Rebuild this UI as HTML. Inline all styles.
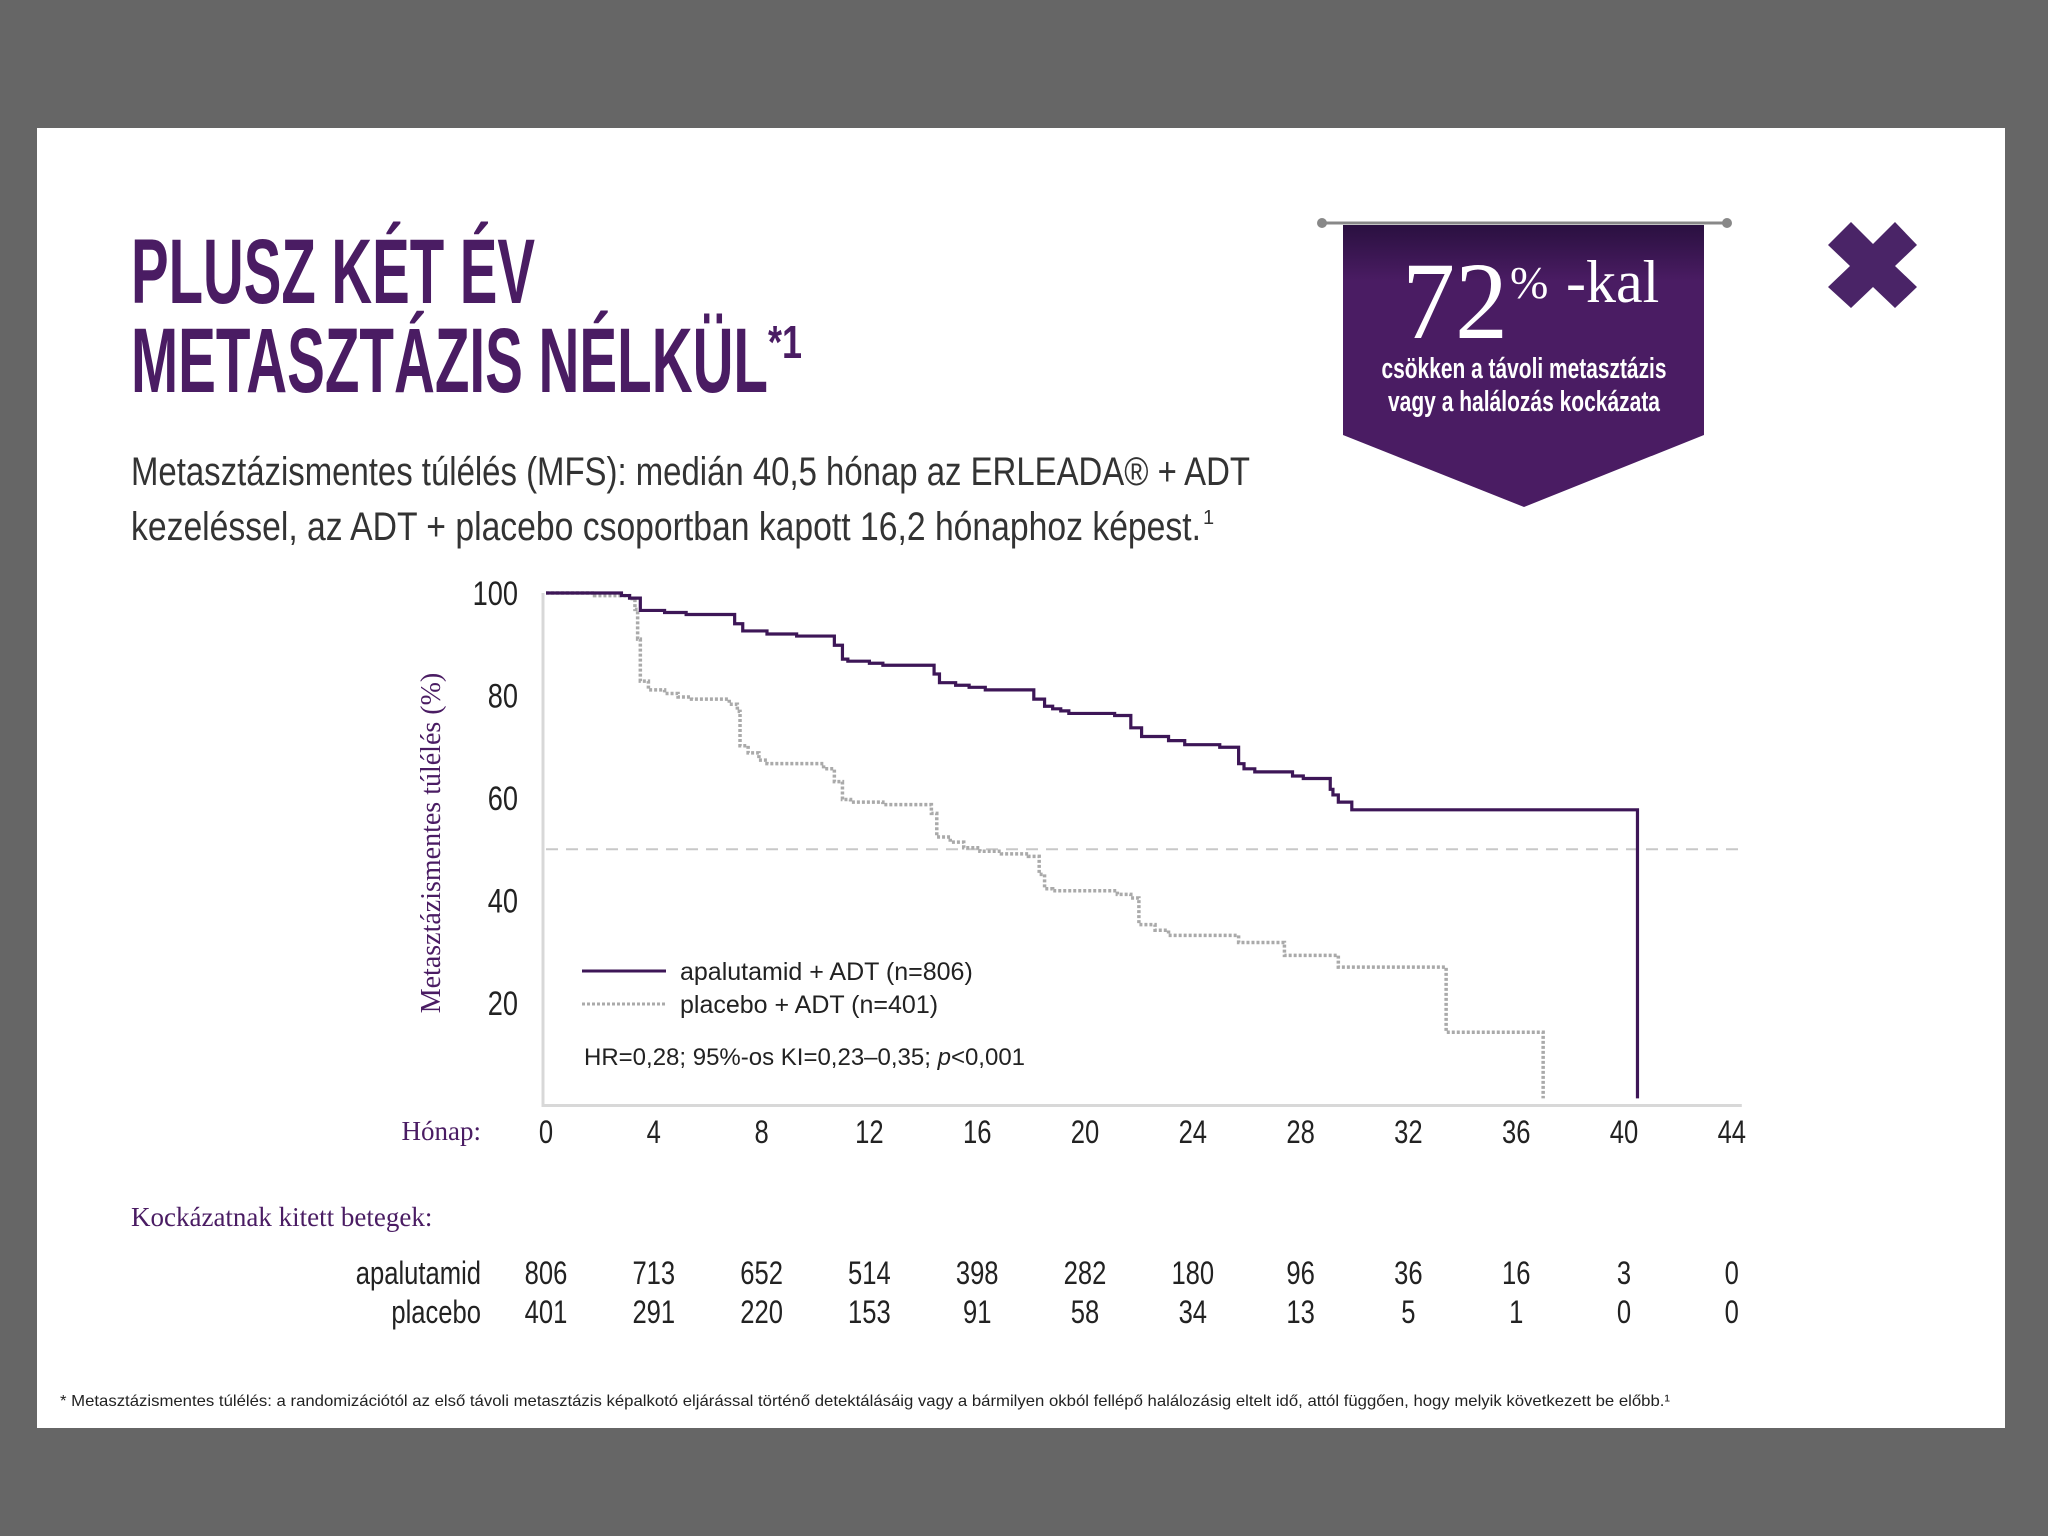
<!DOCTYPE html>
<html><head><meta charset="utf-8"><style>
html,body{margin:0;padding:0;background:#666;}
svg{display:block;}
</style></head><body>
<svg id="root" width="2048" height="1536" viewBox="0 0 2048 1536" xmlns="http://www.w3.org/2000/svg" font-family="Liberation Sans, sans-serif">
<rect x="0" y="0" width="2048" height="1536" fill="#666666"/>
<rect x="37" y="128" width="1968" height="1300" fill="#ffffff"/>
<g fill="#4a1c63" font-weight="bold">
<text x="131" y="303" font-size="92" textLength="404" lengthAdjust="spacingAndGlyphs">PLUSZ KÉT ÉV</text>
<text x="131" y="392" font-size="92" textLength="637" lengthAdjust="spacingAndGlyphs">METASZTÁZIS NÉLKÜL</text>
<text x="768" y="358" font-size="46" textLength="34" lengthAdjust="spacingAndGlyphs">*1</text>
</g>
<g fill="#333" font-size="40">
<text x="131" y="485" textLength="1119" lengthAdjust="spacingAndGlyphs">Metasztázismentes túlélés (MFS): medián 40,5 hónap az ERLEADA® + ADT</text>
<text x="131" y="540" textLength="1070" lengthAdjust="spacingAndGlyphs">kezeléssel, az ADT + placebo csoportban kapott 16,2 hónaphoz képest.</text>
<text x="1203" y="524" font-size="20">1</text>
</g>
<g>
<line x1="1322" y1="223" x2="1727" y2="223" stroke="#888" stroke-width="3"/>
<circle cx="1322" cy="223" r="5" fill="#888"/><circle cx="1727" cy="223" r="5" fill="#888"/>
<defs><linearGradient id="bg" x1="0" y1="0" x2="0" y2="1"><stop offset="0" stop-color="#2a1040"/><stop offset="0.2" stop-color="#4a1c63"/><stop offset="1" stop-color="#4a1c63"/></linearGradient></defs>
<polygon points="1343,225 1704,225 1704,435 1524,507 1343,435" fill="url(#bg)"/>
<text x="1402" y="338" font-family="Liberation Serif, serif" font-size="110" fill="#fff" textLength="106" lengthAdjust="spacingAndGlyphs">72</text>
<text x="1510" y="298" font-family="Liberation Serif, serif" font-size="46" fill="#fff">%</text>
<text x="1566" y="302" font-family="Liberation Serif, serif" font-size="60" fill="#fff">-kal</text>
<text x="1524" y="378" font-size="29" fill="#fff" font-weight="bold" text-anchor="middle" textLength="285" lengthAdjust="spacingAndGlyphs">csökken a távoli metasztázis</text>
<text x="1524" y="411" font-size="29" fill="#fff" font-weight="bold" text-anchor="middle" textLength="272" lengthAdjust="spacingAndGlyphs">vagy a halálozás kockázata</text>
</g>
<g fill="#4a2467">
<polygon points="1828,245 1851,222 1873,244 1895,222 1917,245 1895,266 1917,287 1895,308 1873,287 1851,308 1828,287 1850,266"/>
</g>
<g id="chart"></g>
<text x="440" y="843" transform="rotate(-90 440 843)" text-anchor="middle" font-family="Liberation Serif, serif" font-size="28" fill="#4a1c63">Metasztázismentes túlélés (%)</text>
<text x="481" y="1140" text-anchor="end" font-family="Liberation Serif, serif" font-size="27" fill="#4a1c63">Hónap:</text>
<text x="131" y="1226" font-family="Liberation Serif, serif" font-size="27" fill="#4a1c63">Kockázatnak kitett betegek:</text>
<g>
<line x1="582" y1="971" x2="666" y2="971" stroke="#3d1657" stroke-width="3"/>
<text x="680" y="980" font-size="25" fill="#222">apalutamid + ADT (n=806)</text>
<line x1="582" y1="1004" x2="666" y2="1004" stroke="#aaa" stroke-width="3" stroke-dasharray="3,2"/>
<text x="680" y="1013" font-size="25" fill="#222">placebo + ADT (n=401)</text>
<text x="584" y="1065" font-size="24" fill="#222">HR=0,28; 95%-os KI=0,23–0,35; <tspan font-style="italic">p</tspan>&lt;0,001</text>
</g>
<text x="60" y="1406" font-size="16" fill="#222" textLength="1610" lengthAdjust="spacingAndGlyphs">*  Metasztázismentes túlélés: a randomizációtól az első távoli metasztázis képalkotó eljárással történő detektálásáig vagy a bármilyen okból fellépő halálozásig eltelt idő, attól függően, hogy melyik következett be előbb.¹</text>
</svg>
<script>
const xTicks=[0,4,8,12,16,20,24,28,32,36,40,44];
const yTicks=[20,40,60,80,100];
const apaMonths=[0,2.8,3.1,3.5,4.4,5.2,7.0,7.3,8.2,9.3,10.7,11.0,11.2,12.0,12.5,14.4,14.6,15.2,15.7,16.3,18.1,18.5,18.8,19.1,19.4,21.1,21.7,22.1,23.1,23.7,25.0,25.7,25.9,26.3,27.7,28.1,29.1,29.2,29.4,29.9,40.5];
const apaSurv=[100,99.5,99,96.6,96.2,95.8,94,92.6,92.0,91.6,89.8,87.1,86.7,86.3,85.9,84.2,82.5,82.0,81.6,81.1,79.3,77.9,77.4,77.0,76.5,76.1,73.7,72.0,71.2,70.4,69.9,66.7,65.7,65.1,64.3,63.8,61.7,60.6,59.2,57.7,1.4];
const plaMonths=[0,1.8,3.1,3.3,3.4,3.5,3.8,4.4,4.9,5.4,6.8,7.1,7.2,7.5,7.9,8.2,10.3,10.7,11.0,11.3,12.5,14.3,14.5,15.0,15.5,16.1,16.9,17.9,18.3,18.5,18.8,21.2,21.7,22.0,22.6,23.1,25.7,27.4,29.4,33.4,37.0];
const plaSurv=[100,99.5,98.9,96.8,91,82.8,81.1,80.4,79.7,79.3,78.3,76.9,70.2,68.8,67.4,66.7,65.7,63.2,59.7,59.2,58.7,57.0,52.4,51.4,50.3,49.6,49.1,48.6,45.1,42.3,41.9,41.2,40.5,35.3,34.2,33.2,31.8,29.3,27.0,14.3,1.4];
const riskTimes=[0,4,8,12,16,20,24,28,32,36,40,44];
const riskApa=[806,713,652,514,398,282,180,96,36,16,3,0];
const riskPla=[401,291,220,153,91,58,34,13,5,1,0,0];
const median=50;

const NS='http://www.w3.org/2000/svg';
const X=m=>546+m*26.95;
const Y=v=>1105.5-v*5.125;
const g=document.getElementById('chart');
function mk(tag,attrs,parent){const e=document.createElementNS(NS,tag);for(const k in attrs)e.setAttribute(k,attrs[k]);(parent||g).appendChild(e);return e;}
function cond(x,y){return `translate(${x},${y}) scale(0.8,1)`;}

const ax=mk('path',{d:`M${X(0)-3} ${Y(100)} V${Y(0)} H${X(44)+10}`,stroke:'#d8d8d8','stroke-width':3,fill:'none'});



const ml=mk('line',{x1:X(0),x2:X(44)+8,y1:Y(median),y2:Y(median),stroke:'#c8c8c8','stroke-width':2,'stroke-dasharray':'12,8'});



yTicks.forEach(v=>{
  const t=mk('text',{x:0,y:0,transform:cond(518,Y(v)+12),'text-anchor':'end','font-size':34,fill:'#222'});
  
  
  t.textContent=v;
});
xTicks.forEach(v=>{
  const t=mk('text',{x:0,y:0,transform:cond(X(v),1143),'text-anchor':'middle','font-size':32,fill:'#222'});
  
  
  t.textContent=v;
});
function stepPath(ms,vs){let d=`M${X(ms[0])} ${Y(vs[0])}`;for(let i=1;i<ms.length;i++){d+=` H${X(ms[i])} V${Y(vs[i])}`;}return d;}
const pp=mk('path',{d:stepPath(plaMonths,plaSurv),stroke:'#aaaaaa','stroke-width':3.5,'stroke-dasharray':'3,2',fill:'none'});


const ap=mk('path',{d:stepPath(apaMonths,apaSurv),stroke:'#3d1657','stroke-width':3.2,fill:'none'});



[['apalutamid',riskApa,1284],['placebo',riskPla,1323]].forEach(([name,arr,y])=>{
  const l=mk('text',{x:0,y:0,transform:cond(481,y),'text-anchor':'end','font-size':32,fill:'#222'});
  
  
  l.textContent=name;
  arr.forEach((n,i)=>{
    const t=mk('text',{x:0,y:0,transform:cond(X(riskTimes[i]),y),'text-anchor':'middle','font-size':32,fill:'#222'});
    
    
    t.textContent=n;
  });
});
</script>
</body></html>
